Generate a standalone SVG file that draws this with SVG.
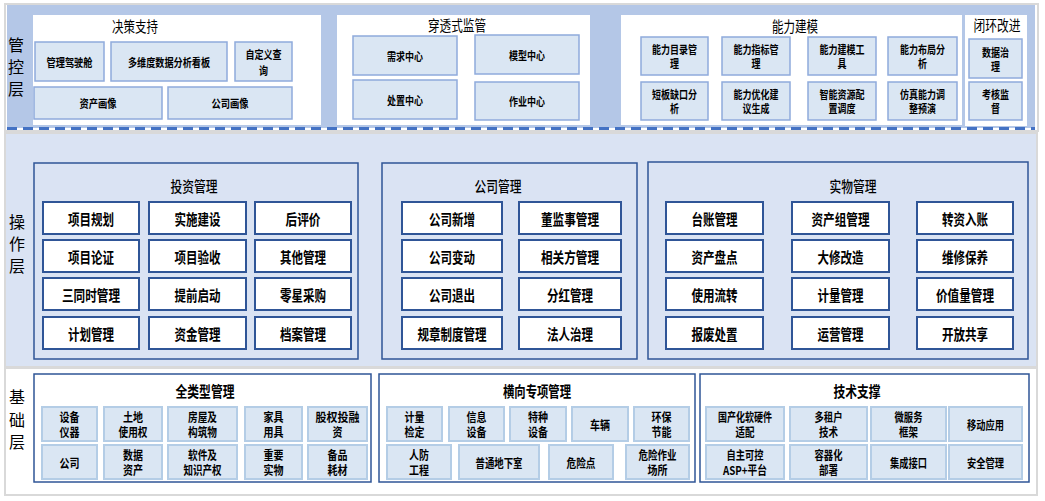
<svg xmlns="http://www.w3.org/2000/svg" width="1045" height="501" viewBox="0 0 1045 501">
<style>
text{font-family:"Noto Sans CJK SC","Microsoft YaHei",sans-serif;text-anchor:middle;dominant-baseline:central;fill:#000}
.lbl{font-size:16px}
.tt{font-size:15px}
.ts{font-size:11.5px;font-weight:bold}
.mt{font-size:15px;font-weight:500}
.mx{font-size:15px;font-weight:bold}
.bt{font-size:15px;font-weight:bold}
.bs{font-size:12px;font-weight:bold}
.gray{stroke:#D9D9D9;stroke-width:2}
.panel{fill:#fff}
.tb{fill:#DAE6F3;stroke:#8FAADC;stroke-width:1.5}
.fr{stroke:#2F5597;stroke-width:1.5}
.mb{fill:#fff;stroke:#2F5597;stroke-width:2}
.bb{fill:#DAE6F3;stroke:#B4CDE6;stroke-width:2}
</style>
<rect width="1045" height="501" fill="#fff"/>
<!-- layer backgrounds -->
<g id="layer-top">
<rect class="gray" x="5" y="4" width="1033" height="127" fill="#fff"/>
<rect x="7" y="5" width="1028" height="123" fill="#B4C7E7"/>
<line x1="7" y1="128.5" x2="1035" y2="128.5" stroke="#4472C4" stroke-width="3" stroke-dasharray="10 6"/>
<text class="lbl" x="16" y="44">管</text><text class="lbl" x="16" y="66">控</text><text class="lbl" x="16" y="88">层</text>
</g>
<g id="layer-mid">
<rect class="gray" x="5" y="133" width="1032" height="234" fill="#DAE3F3"/>
<text class="lbl" x="17" y="221">操</text><text class="lbl" x="17" y="243">作</text><text class="lbl" x="17" y="265">层</text>
</g>
<g id="layer-bot">
<rect class="gray" x="5" y="368" width="1032" height="127" fill="#fff"/>
<text class="lbl" x="17" y="396">基</text><text class="lbl" x="17" y="419">础</text><text class="lbl" x="17" y="441">层</text>
</g>
<g id="connectors"/>
<!-- 决策支持 -->
<g id="jczc">
<rect class="panel" x="33" y="15" width="288" height="110"/>
<text class="tt" x="135" y="25" textLength="46" lengthAdjust="spacingAndGlyphs">决策支持</text>
<g id="jczc-1"><rect class="tb" x="35" y="42" width="69" height="39"/><text class="ts" x="69.5" y="61.5" textLength="46" lengthAdjust="spacingAndGlyphs">管理驾驶舱</text></g>
<g id="jczc-2"><rect class="tb" x="111" y="42" width="116" height="39"/><text class="ts" x="169" y="61.5" textLength="82" lengthAdjust="spacingAndGlyphs">多维度数据分析看板</text></g>
<g id="jczc-3"><rect class="tb" x="235" y="42" width="57" height="39"/><text class="ts" x="263.5" y="54" textLength="36" lengthAdjust="spacingAndGlyphs">自定义查</text><text class="ts" x="263.5" y="70" textLength="9" lengthAdjust="spacingAndGlyphs">询</text></g>
<g id="jczc-4"><rect class="tb" x="34" y="87" width="128" height="32"/><text class="ts" x="98" y="103" textLength="37" lengthAdjust="spacingAndGlyphs">资产画像</text></g>
<g id="jczc-5"><rect class="tb" x="168" y="87" width="124" height="32"/><text class="ts" x="230" y="103" textLength="37" lengthAdjust="spacingAndGlyphs">公司画像</text></g>
</g>
<!-- 穿透式监管 -->
<g id="ctsjg">
<rect class="panel" x="337" y="15" width="253" height="110"/>
<text class="tt" x="457" y="24" textLength="58" lengthAdjust="spacingAndGlyphs">穿透式监管</text>
<g id="ctsjg-1"><rect class="tb" x="353" y="36" width="104" height="39"/><text class="ts" x="405" y="55.5" textLength="36" lengthAdjust="spacingAndGlyphs">需求中心</text></g>
<g id="ctsjg-2"><rect class="tb" x="475" y="35" width="104" height="39"/><text class="ts" x="527" y="54.5" textLength="36" lengthAdjust="spacingAndGlyphs">模型中心</text></g>
<g id="ctsjg-3"><rect class="tb" x="353" y="80" width="104" height="39"/><text class="ts" x="405" y="99.5" textLength="36" lengthAdjust="spacingAndGlyphs">处置中心</text></g>
<g id="ctsjg-4"><rect class="tb" x="475" y="82" width="104" height="38"/><text class="ts" x="527" y="101" textLength="36" lengthAdjust="spacingAndGlyphs">作业中心</text></g>
</g>
<!-- 能力建模 -->
<g id="nljm">
<rect class="panel" x="621" y="15" width="341" height="110"/>
<text class="tt" x="795" y="25" textLength="46" lengthAdjust="spacingAndGlyphs">能力建模</text>
<g id="nljm-1"><rect class="tb" x="641" y="37" width="67" height="38"/><text class="ts" x="674.5" y="49" textLength="45" lengthAdjust="spacingAndGlyphs">能力目录管</text><text class="ts" x="674.5" y="63" textLength="9" lengthAdjust="spacingAndGlyphs">理</text></g>
<g id="nljm-2"><rect class="tb" x="722" y="37" width="68" height="38"/><text class="ts" x="756" y="49" textLength="45" lengthAdjust="spacingAndGlyphs">能力指标管</text><text class="ts" x="756" y="63" textLength="9" lengthAdjust="spacingAndGlyphs">理</text></g>
<g id="nljm-3"><rect class="tb" x="808" y="37" width="68" height="38"/><text class="ts" x="842" y="49" textLength="45" lengthAdjust="spacingAndGlyphs">能力建模工</text><text class="ts" x="842" y="63" textLength="9" lengthAdjust="spacingAndGlyphs">具</text></g>
<g id="nljm-4"><rect class="tb" x="888" y="37" width="69" height="38"/><text class="ts" x="922.5" y="49" textLength="45" lengthAdjust="spacingAndGlyphs">能力布局分</text><text class="ts" x="922.5" y="63" textLength="9" lengthAdjust="spacingAndGlyphs">析</text></g>
<g id="nljm-5"><rect class="tb" x="641" y="82" width="67" height="38"/><text class="ts" x="674.5" y="94" textLength="45" lengthAdjust="spacingAndGlyphs">短板缺口分</text><text class="ts" x="674.5" y="108" textLength="9" lengthAdjust="spacingAndGlyphs">析</text></g>
<g id="nljm-6"><rect class="tb" x="722" y="82" width="68" height="38"/><text class="ts" x="756" y="94" textLength="45" lengthAdjust="spacingAndGlyphs">能力优化建</text><text class="ts" x="756" y="108" textLength="27" lengthAdjust="spacingAndGlyphs">议生成</text></g>
<g id="nljm-7"><rect class="tb" x="808" y="82" width="68" height="38"/><text class="ts" x="842" y="94" textLength="45" lengthAdjust="spacingAndGlyphs">智能资源配</text><text class="ts" x="842" y="108" textLength="27" lengthAdjust="spacingAndGlyphs">置调度</text></g>
<g id="nljm-8"><rect class="tb" x="888" y="82" width="69" height="38"/><text class="ts" x="922.5" y="94" textLength="45" lengthAdjust="spacingAndGlyphs">仿真能力调</text><text class="ts" x="922.5" y="108" textLength="27" lengthAdjust="spacingAndGlyphs">整预演</text></g>
</g>
<!-- 闭环改进 -->
<g id="bhgj">
<rect class="panel" x="965" y="15" width="62" height="111"/>
<text class="tt" x="997" y="24" textLength="47" lengthAdjust="spacingAndGlyphs">闭环改进</text>
<g id="bhgj-1"><rect class="tb" x="969" y="39" width="53" height="39"/><text class="ts" x="995.5" y="52" textLength="27" lengthAdjust="spacingAndGlyphs">数据治</text><text class="ts" x="995.5" y="66" textLength="9" lengthAdjust="spacingAndGlyphs">理</text></g>
<g id="bhgj-2"><rect class="tb" x="969" y="82" width="53" height="38"/><text class="ts" x="995.5" y="94" textLength="27" lengthAdjust="spacingAndGlyphs">考核监</text><text class="ts" x="995.5" y="108" textLength="9" lengthAdjust="spacingAndGlyphs">督</text></g>
</g>
<!-- 投资管理 -->
<g id="tzgl">
<rect class="fr" x="34" y="163" width="324" height="196" fill="none"/>
<text class="mt" x="194" y="185" textLength="47" lengthAdjust="spacingAndGlyphs">投资管理</text>
<g id="tz-1"><rect class="mb" x="43" y="202" width="96" height="32"/><text class="mx" x="91" y="218" textLength="46" lengthAdjust="spacingAndGlyphs">项目规划</text></g>
<g id="tz-2"><rect class="mb" x="149" y="202" width="97" height="32"/><text class="mx" x="197.5" y="218" textLength="46" lengthAdjust="spacingAndGlyphs">实施建设</text></g>
<g id="tz-3"><rect class="mb" x="255" y="202" width="96" height="32"/><text class="mx" x="303" y="218" textLength="35" lengthAdjust="spacingAndGlyphs">后评价</text></g>
<g id="tz-4"><rect class="mb" x="43" y="240" width="96" height="32"/><text class="mx" x="91" y="256" textLength="46" lengthAdjust="spacingAndGlyphs">项目论证</text></g>
<g id="tz-5"><rect class="mb" x="149" y="240" width="97" height="32"/><text class="mx" x="197.5" y="256" textLength="46" lengthAdjust="spacingAndGlyphs">项目验收</text></g>
<g id="tz-6"><rect class="mb" x="255" y="240" width="96" height="32"/><text class="mx" x="303" y="256" textLength="46" lengthAdjust="spacingAndGlyphs">其他管理</text></g>
<g id="tz-7"><rect class="mb" x="43" y="278" width="96" height="32"/><text class="mx" x="91" y="294" textLength="58" lengthAdjust="spacingAndGlyphs">三同时管理</text></g>
<g id="tz-8"><rect class="mb" x="149" y="278" width="97" height="32"/><text class="mx" x="197.5" y="294" textLength="46" lengthAdjust="spacingAndGlyphs">提前启动</text></g>
<g id="tz-9"><rect class="mb" x="255" y="278" width="96" height="32"/><text class="mx" x="303" y="294" textLength="46" lengthAdjust="spacingAndGlyphs">零星采购</text></g>
<g id="tz-10"><rect class="mb" x="43" y="317" width="96" height="32"/><text class="mx" x="91" y="333" textLength="46" lengthAdjust="spacingAndGlyphs">计划管理</text></g>
<g id="tz-11"><rect class="mb" x="149" y="317" width="97" height="32"/><text class="mx" x="197.5" y="333" textLength="46" lengthAdjust="spacingAndGlyphs">资金管理</text></g>
<g id="tz-12"><rect class="mb" x="255" y="317" width="96" height="32"/><text class="mx" x="303" y="333" textLength="46" lengthAdjust="spacingAndGlyphs">档案管理</text></g>
</g>
<!-- 公司管理 -->
<g id="gsgl">
<rect class="fr" x="382" y="163" width="255" height="196" fill="none"/>
<text class="mt" x="498" y="185" textLength="47" lengthAdjust="spacingAndGlyphs">公司管理</text>
<g id="gs-1"><rect class="mb" x="402" y="202" width="100" height="32"/><text class="mx" x="452" y="218" textLength="46" lengthAdjust="spacingAndGlyphs">公司新增</text></g>
<g id="gs-2"><rect class="mb" x="519" y="202" width="102" height="32"/><text class="mx" x="570" y="218" textLength="58" lengthAdjust="spacingAndGlyphs">董监事管理</text></g>
<g id="gs-3"><rect class="mb" x="402" y="240" width="100" height="32"/><text class="mx" x="452" y="256" textLength="46" lengthAdjust="spacingAndGlyphs">公司变动</text></g>
<g id="gs-4"><rect class="mb" x="519" y="240" width="102" height="32"/><text class="mx" x="570" y="256" textLength="58" lengthAdjust="spacingAndGlyphs">相关方管理</text></g>
<g id="gs-5"><rect class="mb" x="402" y="278" width="100" height="32"/><text class="mx" x="452" y="294" textLength="46" lengthAdjust="spacingAndGlyphs">公司退出</text></g>
<g id="gs-6"><rect class="mb" x="519" y="278" width="102" height="32"/><text class="mx" x="570" y="294" textLength="46" lengthAdjust="spacingAndGlyphs">分红管理</text></g>
<g id="gs-7"><rect class="mb" x="402" y="317" width="100" height="32"/><text class="mx" x="452" y="333" textLength="69" lengthAdjust="spacingAndGlyphs">规章制度管理</text></g>
<g id="gs-8"><rect class="mb" x="519" y="317" width="102" height="32"/><text class="mx" x="570" y="333" textLength="46" lengthAdjust="spacingAndGlyphs">法人治理</text></g>
</g>
<!-- 实物管理 -->
<g id="swgl">
<rect class="fr" x="648" y="162" width="380" height="197" fill="none"/>
<text class="mt" x="853" y="185" textLength="47" lengthAdjust="spacingAndGlyphs">实物管理</text>
<g id="sw-1"><rect class="mb" x="666" y="202" width="97" height="32"/><text class="mx" x="714.5" y="218" textLength="46" lengthAdjust="spacingAndGlyphs">台账管理</text></g>
<g id="sw-2"><rect class="mb" x="792" y="202" width="97" height="32"/><text class="mx" x="840.5" y="218" textLength="58" lengthAdjust="spacingAndGlyphs">资产组管理</text></g>
<g id="sw-3"><rect class="mb" x="917" y="202" width="96" height="32"/><text class="mx" x="965" y="218" textLength="46" lengthAdjust="spacingAndGlyphs">转资入账</text></g>
<g id="sw-4"><rect class="mb" x="666" y="240" width="97" height="32"/><text class="mx" x="714.5" y="256" textLength="46" lengthAdjust="spacingAndGlyphs">资产盘点</text></g>
<g id="sw-5"><rect class="mb" x="792" y="240" width="97" height="32"/><text class="mx" x="840.5" y="256" textLength="46" lengthAdjust="spacingAndGlyphs">大修改造</text></g>
<g id="sw-6"><rect class="mb" x="917" y="240" width="96" height="32"/><text class="mx" x="965" y="256" textLength="46" lengthAdjust="spacingAndGlyphs">维修保养</text></g>
<g id="sw-7"><rect class="mb" x="666" y="278" width="97" height="32"/><text class="mx" x="714.5" y="294" textLength="46" lengthAdjust="spacingAndGlyphs">使用流转</text></g>
<g id="sw-8"><rect class="mb" x="792" y="278" width="97" height="32"/><text class="mx" x="840.5" y="294" textLength="46" lengthAdjust="spacingAndGlyphs">计量管理</text></g>
<g id="sw-9"><rect class="mb" x="917" y="278" width="96" height="32"/><text class="mx" x="965" y="294" textLength="58" lengthAdjust="spacingAndGlyphs">价值量管理</text></g>
<g id="sw-10"><rect class="mb" x="666" y="317" width="97" height="32"/><text class="mx" x="714.5" y="333" textLength="46" lengthAdjust="spacingAndGlyphs">报废处置</text></g>
<g id="sw-11"><rect class="mb" x="792" y="317" width="97" height="32"/><text class="mx" x="840.5" y="333" textLength="46" lengthAdjust="spacingAndGlyphs">运营管理</text></g>
<g id="sw-12"><rect class="mb" x="917" y="317" width="96" height="32"/><text class="mx" x="965" y="333" textLength="46" lengthAdjust="spacingAndGlyphs">开放共享</text></g>
</g>
<!-- 全类型管理 -->
<g id="qlxgl">
<rect class="fr" x="34" y="374" width="337" height="108" fill="#fff" stroke-width="2"/>
<text class="bt" x="205" y="390" textLength="59" lengthAdjust="spacingAndGlyphs">全类型管理</text>
<g id="ql-1"><rect class="bb" x="42" y="407" width="55" height="34"/><text class="bs" x="69.5" y="416.5" textLength="20" lengthAdjust="spacingAndGlyphs">设备</text><text class="bs" x="69.5" y="431.5" textLength="20" lengthAdjust="spacingAndGlyphs">仪器</text></g>
<g id="ql-2"><rect class="bb" x="104" y="407" width="58" height="34"/><text class="bs" x="133" y="416.5" textLength="20" lengthAdjust="spacingAndGlyphs">土地</text><text class="bs" x="133" y="431.5" textLength="29" lengthAdjust="spacingAndGlyphs">使用权</text></g>
<g id="ql-3"><rect class="bb" x="168" y="407" width="69" height="34"/><text class="bs" x="202.5" y="416.5" textLength="29" lengthAdjust="spacingAndGlyphs">房屋及</text><text class="bs" x="202.5" y="431.5" textLength="29" lengthAdjust="spacingAndGlyphs">构筑物</text></g>
<g id="ql-4"><rect class="bb" x="245" y="407" width="57" height="34"/><text class="bs" x="273.5" y="416.5" textLength="20" lengthAdjust="spacingAndGlyphs">家具</text><text class="bs" x="273.5" y="431.5" textLength="20" lengthAdjust="spacingAndGlyphs">用具</text></g>
<g id="ql-5"><rect class="bb" x="308" y="407" width="59" height="34"/><text class="bs" x="337.5" y="416.5" textLength="44" lengthAdjust="spacingAndGlyphs">股权投融</text><text class="bs" x="337.5" y="431.5" textLength="10" lengthAdjust="spacingAndGlyphs">资</text></g>
<g id="ql-6"><rect class="bb" x="42" y="445" width="55" height="34"/><text class="bs" x="69.5" y="462" textLength="20" lengthAdjust="spacingAndGlyphs">公司</text></g>
<g id="ql-7"><rect class="bb" x="104" y="445" width="58" height="34"/><text class="bs" x="133" y="454.5" textLength="20" lengthAdjust="spacingAndGlyphs">数据</text><text class="bs" x="133" y="469.5" textLength="20" lengthAdjust="spacingAndGlyphs">资产</text></g>
<g id="ql-8"><rect class="bb" x="168" y="445" width="69" height="34"/><text class="bs" x="202.5" y="454.5" textLength="29" lengthAdjust="spacingAndGlyphs">软件及</text><text class="bs" x="202.5" y="469.5" textLength="38" lengthAdjust="spacingAndGlyphs">知识产权</text></g>
<g id="ql-9"><rect class="bb" x="245" y="445" width="57" height="34"/><text class="bs" x="273.5" y="454.5" textLength="20" lengthAdjust="spacingAndGlyphs">重要</text><text class="bs" x="273.5" y="469.5" textLength="20" lengthAdjust="spacingAndGlyphs">实物</text></g>
<g id="ql-10"><rect class="bb" x="308" y="445" width="59" height="34"/><text class="bs" x="337.5" y="454.5" textLength="20" lengthAdjust="spacingAndGlyphs">备品</text><text class="bs" x="337.5" y="469.5" textLength="20" lengthAdjust="spacingAndGlyphs">耗材</text></g>
</g>
<!-- 横向专项管理 -->
<g id="hxzxgl">
<rect class="fr" x="379" y="374" width="316" height="108" fill="#fff" stroke-width="2"/>
<text class="bt" x="537" y="390" textLength="68" lengthAdjust="spacingAndGlyphs">横向专项管理</text>
<g id="hx-1"><rect class="bb" x="387" y="407" width="55" height="34"/><text class="bs" x="414.5" y="416.5" textLength="20" lengthAdjust="spacingAndGlyphs">计量</text><text class="bs" x="414.5" y="431.5" textLength="20" lengthAdjust="spacingAndGlyphs">检定</text></g>
<g id="hx-2"><rect class="bb" x="449" y="407" width="55" height="34"/><text class="bs" x="476.5" y="416.5" textLength="20" lengthAdjust="spacingAndGlyphs">信息</text><text class="bs" x="476.5" y="431.5" textLength="20" lengthAdjust="spacingAndGlyphs">设备</text></g>
<g id="hx-3"><rect class="bb" x="510" y="407" width="56" height="34"/><text class="bs" x="538" y="416.5" textLength="20" lengthAdjust="spacingAndGlyphs">特种</text><text class="bs" x="538" y="431.5" textLength="20" lengthAdjust="spacingAndGlyphs">设备</text></g>
<g id="hx-4"><rect class="bb" x="572" y="407" width="56" height="34"/><text class="bs" x="600" y="424" textLength="20" lengthAdjust="spacingAndGlyphs">车辆</text></g>
<g id="hx-5"><rect class="bb" x="634" y="407" width="55" height="34"/><text class="bs" x="661.5" y="416.5" textLength="20" lengthAdjust="spacingAndGlyphs">环保</text><text class="bs" x="661.5" y="431.5" textLength="20" lengthAdjust="spacingAndGlyphs">节能</text></g>
<g id="hx-6"><rect class="bb" x="387" y="445" width="64" height="34"/><text class="bs" x="419" y="454.5" textLength="20" lengthAdjust="spacingAndGlyphs">人防</text><text class="bs" x="419" y="469.5" textLength="20" lengthAdjust="spacingAndGlyphs">工程</text></g>
<g id="hx-7"><rect class="bb" x="459" y="445" width="80" height="34"/><text class="bs" x="499" y="462" textLength="47" lengthAdjust="spacingAndGlyphs">普通地下室</text></g>
<g id="hx-8"><rect class="bb" x="549" y="445" width="64" height="34"/><text class="bs" x="581" y="462" textLength="29" lengthAdjust="spacingAndGlyphs">危险点</text></g>
<g id="hx-9"><rect class="bb" x="626" y="445" width="63" height="34"/><text class="bs" x="657.5" y="454.5" textLength="38" lengthAdjust="spacingAndGlyphs">危险作业</text><text class="bs" x="657.5" y="469.5" textLength="20" lengthAdjust="spacingAndGlyphs">场所</text></g>
</g>
<!-- 技术支撑 -->
<g id="jszc">
<rect class="fr" x="700" y="374" width="329" height="108" fill="#fff" stroke-width="2"/>
<text class="bt" x="857" y="390" textLength="47" lengthAdjust="spacingAndGlyphs">技术支撑</text>
<g id="js-1"><rect class="bb" x="706" y="407" width="78" height="34"/><text class="bs" x="745" y="416.5" textLength="54" lengthAdjust="spacingAndGlyphs">国产化软硬件</text><text class="bs" x="745" y="431.5" textLength="19" lengthAdjust="spacingAndGlyphs">适配</text></g>
<g id="js-2"><rect class="bb" x="790" y="407" width="77" height="34"/><text class="bs" x="828.5" y="416.5" textLength="28" lengthAdjust="spacingAndGlyphs">多租户</text><text class="bs" x="828.5" y="431.5" textLength="19" lengthAdjust="spacingAndGlyphs">技术</text></g>
<g id="js-3"><rect class="bb" x="871" y="407" width="75" height="34"/><text class="bs" x="908.5" y="416.5" textLength="28" lengthAdjust="spacingAndGlyphs">微服务</text><text class="bs" x="908.5" y="431.5" textLength="19" lengthAdjust="spacingAndGlyphs">框架</text></g>
<g id="js-4"><rect class="bb" x="949" y="407" width="73" height="34"/><text class="bs" x="985.5" y="424" textLength="37" lengthAdjust="spacingAndGlyphs">移动应用</text></g>
<g id="js-5"><rect class="bb" x="706" y="445" width="78" height="34"/><text class="bs" x="745" y="454.5" textLength="37" lengthAdjust="spacingAndGlyphs">自主可控</text><text class="bs" x="745" y="469.5" textLength="44" lengthAdjust="spacingAndGlyphs">ASP+平台</text></g>
<g id="js-6"><rect class="bb" x="790" y="445" width="77" height="34"/><text class="bs" x="828.5" y="454.5" textLength="28" lengthAdjust="spacingAndGlyphs">容器化</text><text class="bs" x="828.5" y="469.5" textLength="19" lengthAdjust="spacingAndGlyphs">部署</text></g>
<g id="js-7"><rect class="bb" x="871" y="445" width="75" height="34"/><text class="bs" x="908.5" y="462" textLength="37" lengthAdjust="spacingAndGlyphs">集成接口</text></g>
<g id="js-8"><rect class="bb" x="949" y="445" width="73" height="34"/><text class="bs" x="985.5" y="462" textLength="37" lengthAdjust="spacingAndGlyphs">安全管理</text></g>
</g>
</svg>
